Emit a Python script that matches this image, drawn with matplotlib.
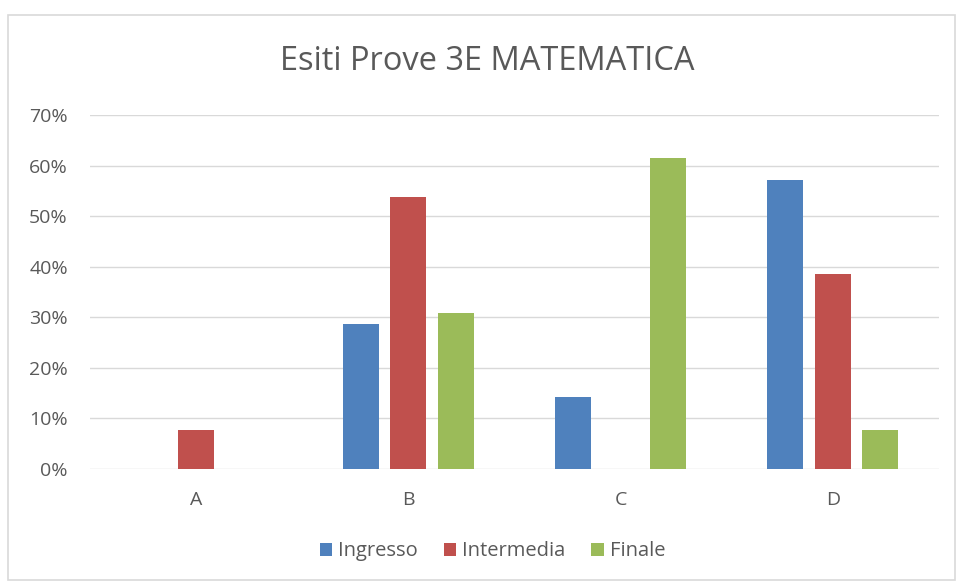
import matplotlib.pyplot as plt
from matplotlib.patches import Rectangle
from matplotlib.ticker import PercentFormatter
import numpy as np

categories = ["A", "B", "C", "D"]
series = ["Ingresso", "Intermedia", "Finale"]
ingresso = [0.0, 28.6, 14.3, 57.1]
intermedia = [7.7, 53.8, 0.0, 38.5]
finale = [0.0, 30.8, 61.5, 7.7]
yticks = [0, 10, 20, 30, 40, 50, 60, 70]

colors = ["#4F81BD", "#C0504D", "#9BBB59"]
text_col = "#595959"

plt.rcParams['font.family'] = ['Open Sans', 'DejaVu Sans']

fig = plt.figure(figsize=(9.58, 5.83), dpi=100)
fig.patch.set_facecolor("white")

# light chart border
fig.patches.append(Rectangle((8 / 958, 3 / 583), 947 / 958, 565 / 583,
                             transform=fig.transFigure, fill=False,
                             edgecolor="#D9D9D9", linewidth=1.2))

ax = fig.add_axes([90 / 958, 1 - 469 / 583, 849 / 958, 354 / 583])

x = np.arange(len(categories))
width = 0.17
offset = 0.224
for i, (vals, name) in enumerate(zip([ingresso, intermedia, finale], series)):
    ax.bar(x + (i - 1) * offset, vals, width, color=colors[i], label=name, zorder=3)

ax.set_xlim(-0.5, len(categories) - 0.5)
ax.set_ylim(0, 70)
ax.set_yticks(yticks)
ax.yaxis.set_major_formatter(PercentFormatter(decimals=0))
ax.set_xticks(x)
ax.set_xticklabels(categories)
ax.grid(axis="y", color="#D9D9D9", linewidth=1, zorder=0)
for s in ax.spines.values():
    s.set_visible(False)
ax.tick_params(length=0, labelsize=14, colors=text_col)
ax.tick_params(axis="y", pad=16)
ax.tick_params(axis="x", pad=16)

fig.text(487 / 958, 1 - 62 / 583, "Esiti Prove 3E MATEMATICA", ha="center", va="center",
         fontsize=23.5, color=text_col)

ax.legend(loc="center", bbox_to_anchor=(0.474, -0.233), ncol=3, frameon=False,
          fontsize=14.5, labelcolor=text_col, handlelength=0.6, handleheight=0.6,
          handletextpad=0.3, columnspacing=1.3)

fig.savefig("out.png", dpi=100)
